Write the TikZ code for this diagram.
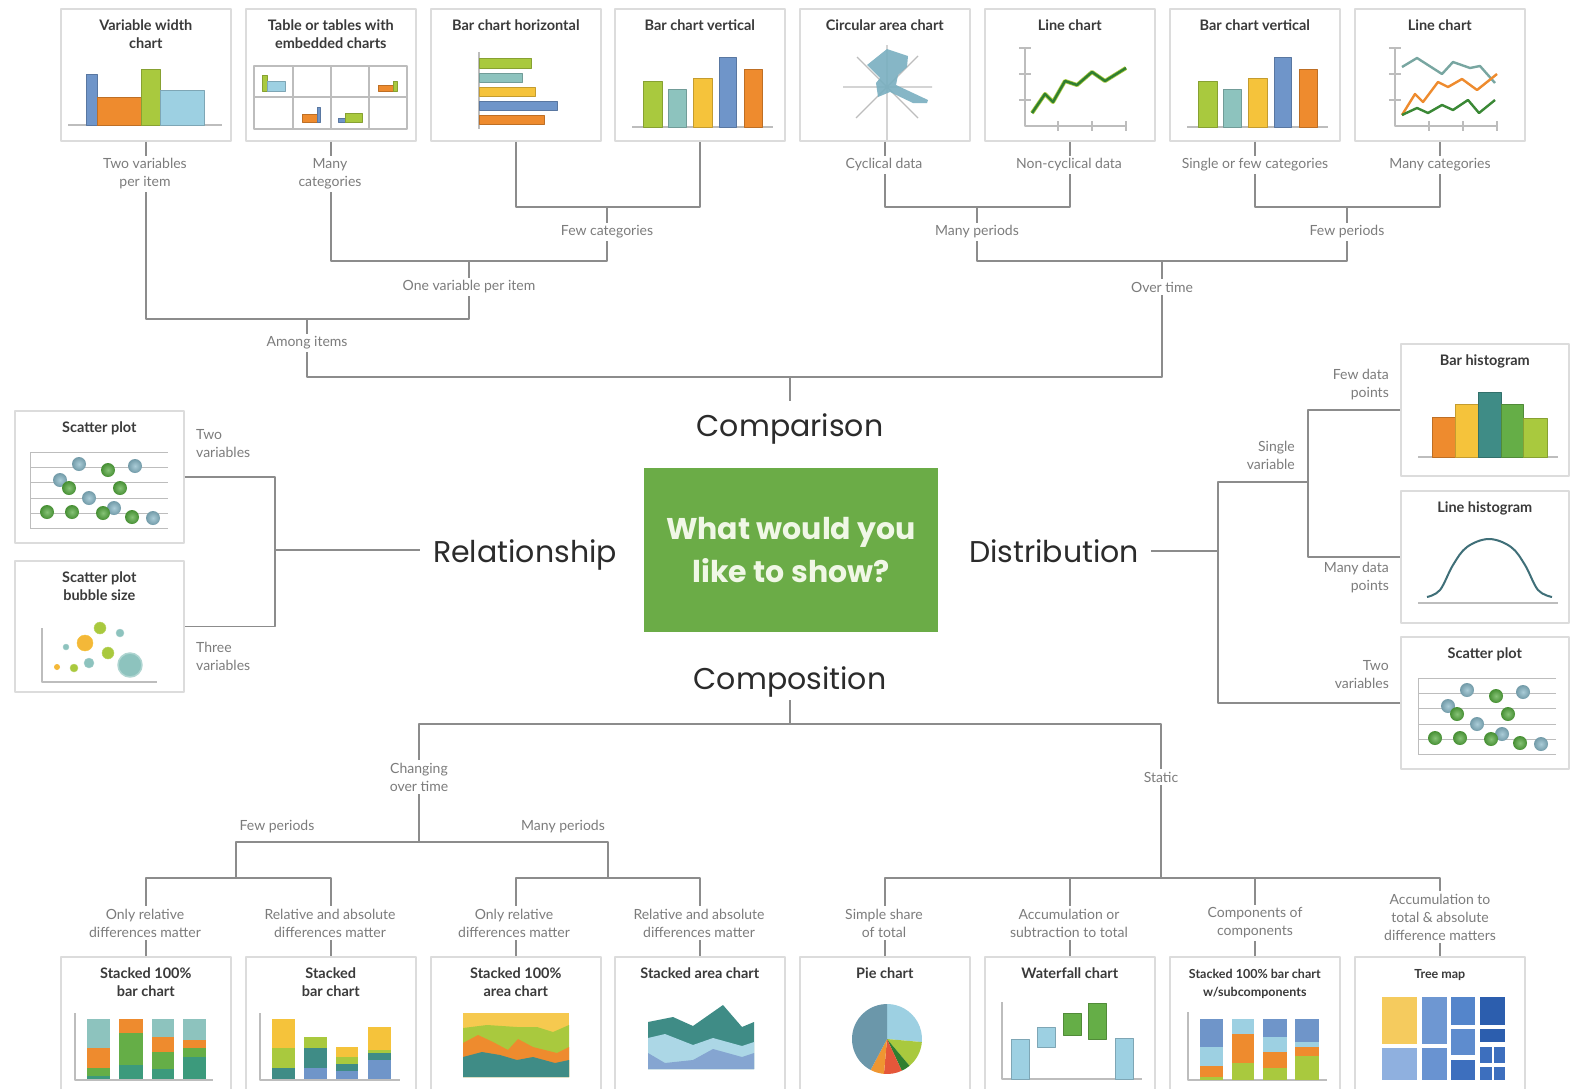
\documentclass[tikz,border=0pt]{standalone}
\usepackage{fontspec}
\setmainfont{Lato}
\newfontfamily\headfont{Poppins}
\usepackage{xcolor}
\usetikzlibrary{positioning}

\definecolor{boxgray}{HTML}{DCDCDC}
\definecolor{linegray}{HTML}{8C8C8C}
\definecolor{labelgray}{HTML}{7C7C7C}
\definecolor{titlegray}{HTML}{3A3A3A}
\definecolor{headgray}{HTML}{2B2B2B}
\definecolor{axisgray}{HTML}{BDBDBD}
\definecolor{qgreen}{HTML}{6BAC47}
\definecolor{qtext}{HTML}{F0F7E6}
\definecolor{cLime}{HTML}{A9C93E}
\definecolor{cTeal}{HTML}{8DC3BE}
\definecolor{cYellow}{HTML}{F5C33B}
\definecolor{cBlue}{HTML}{6F95C9}
\definecolor{cOrange}{HTML}{EE8B2E}
\definecolor{cSky}{HTML}{9DD0E2}
\definecolor{cDTeal}{HTML}{3F8C86}
\definecolor{cSea}{HTML}{3C9A7C}
\definecolor{cGreen}{HTML}{65AE47}
\definecolor{cDGreen}{HTML}{2F7F30}
\definecolor{cSteel}{HTML}{6B97AA}
\definecolor{cRed}{HTML}{E5573A}
\definecolor{cCirc}{HTML}{79AFC0}
\definecolor{cBell}{HTML}{3F6F78}
\definecolor{cScatB}{HTML}{86B6C6}
\definecolor{cScatG}{HTML}{52A83C}
\definecolor{tmA}{HTML}{8FB0DF}
\definecolor{tmB}{HTML}{6E97D2}
\definecolor{tmC}{HTML}{5485CB}
\definecolor{tmD}{HTML}{3D6FBE}
\definecolor{tmE}{HTML}{2C5EAE}
\definecolor{tmY}{HTML}{F5CB5E}

\tikzset{
  chartbox/.style={draw=boxgray,line width=1.6pt,fill=white,minimum width=170pt,
    minimum height=132pt,anchor=north west,inner sep=0pt},
  ttl/.style={font=\fontsize{14.5}{18}\selectfont\bfseries,text=titlegray,align=center,inner sep=2pt},
  lbl/.style={font=\fontsize{14}{18}\selectfont,text=labelgray,align=center,fill=white,inner sep=3pt},
  link/.style={draw=linegray,line width=1.4pt},
  head/.style={font=\headfont\fontsize{30}{34}\selectfont,text=headgray,inner sep=3pt,anchor=base},
  axis/.style={draw=axisgray,line width=1.2pt},
  bar/.style={draw=#1!80!black,line width=0.4pt,fill=#1},
  dot/.style={inner color=#1!70!white,outer color=#1!85!black},
  barvpic/.pic={
    \draw[axis] (18,119) -- (159,119);
    \path[bar=cLime] (29,73) rectangle (48,119);
    \path[bar=cTeal] (54,81) rectangle (72,119);
    \path[bar=cYellow] (79,70) rectangle (98,119);
    \path[bar=cBlue] (105,49) rectangle (122,119);
    \path[bar=cOrange] (130,61) rectangle (148,119);
  },
  scatpic/.pic={
    \foreach \yy in {42,57,72,88,103,118} \draw[axis,line width=0.8pt] (16,\yy) -- (154,\yy);
    \draw[axis,line width=0.8pt] (16,42) -- (16,118);
    \shade[dot=cScatB] (65,54) circle (7);
    \shade[dot=cScatG] (94,60) circle (7);
    \shade[dot=cScatB] (121,56) circle (7);
    \shade[dot=cScatB] (46,70) circle (7);
    \shade[dot=cScatG] (55,78) circle (7);
    \shade[dot=cScatG] (106,78) circle (7);
    \shade[dot=cScatB] (75,88) circle (7);
    \shade[dot=cScatG] (33,102) circle (7);
    \shade[dot=cScatG] (58,102) circle (7);
    \shade[dot=cScatB] (100,98) circle (7);
    \shade[dot=cScatG] (89,103) circle (7);
    \shade[dot=cScatG] (118,107) circle (7);
    \shade[dot=cScatB] (139,108) circle (7);
  },
}

\begin{document}
\begin{tikzpicture}[x=1pt,y=-1pt,line join=round]
  \useasboundingbox (0,0) rectangle (1572,1088);
  \clip (0,0) rectangle (1572,1088);
  \fill[white] (0,0) rectangle (1572,1088);

  % top row
  \node[chartbox] (B1) at (60,8) {};
  \node[chartbox] (B2) at (245,8) {};
  \node[chartbox] (B3) at (430,8) {};
  \node[chartbox] (B4) at (614,8) {};
  \node[chartbox] (B5) at (799,8) {};
  \node[chartbox] (B6) at (984,8) {};
  \node[chartbox] (B7) at (1169,8) {};
  \node[chartbox] (B8) at (1354,8) {};
  % left and right
  \node[chartbox,minimum width=169pt] (L1) at (14,410) {};
  \node[chartbox,minimum width=169pt,minimum height=131pt] (L2) at (14,560) {};
  \node[chartbox,minimum width=168pt] (R1) at (1400,343) {};
  \node[chartbox,minimum width=168pt] (R2) at (1400,490) {};
  \node[chartbox,minimum width=168pt] (R3) at (1400,636) {};
  % bottom row
  \node[chartbox,minimum height=145pt] (C1) at (60,956) {};
  \node[chartbox,minimum height=145pt] (C2) at (245,956) {};
  \node[chartbox,minimum height=145pt] (C3) at (430,956) {};
  \node[chartbox,minimum height=145pt] (C4) at (614,956) {};
  \node[chartbox,minimum height=145pt] (C5) at (799,956) {};
  \node[chartbox,minimum height=145pt] (C6) at (984,956) {};
  \node[chartbox,minimum height=145pt] (C7) at (1169,956) {};
  \node[chartbox,minimum height=145pt] (C8) at (1354,956) {};

  % titles
  \node[ttl,below=10pt of B1.north] (B1t) {Variable width\\chart};
  \node[ttl,below=10pt of B2.north] (B2t) {Table or tables with\\embedded charts};
  \node[ttl,below=10pt of B3.north] (B3t) {Bar chart horizontal};
  \node[ttl,below=10pt of B4.north] (B4t) {Bar chart vertical};
  \node[ttl,below=10pt of B5.north] (B5t) {Circular area chart};
  \node[ttl,below=10pt of B6.north] (B6t) {Line chart};
  \node[ttl,below=10pt of B7.north] (B7t) {Bar chart vertical};
  \node[ttl,below=10pt of B8.north] (B8t) {Line chart};
  \node[ttl,below=10pt of L1.north] (L1t) {Scatter plot};
  \node[ttl,below=10pt of L2.north] (L2t) {Scatter plot\\bubble size};
  \node[ttl,below=10pt of R1.north] (R1t) {Bar histogram};
  \node[ttl,below=10pt of R2.north] (R2t) {Line histogram};
  \node[ttl,below=10pt of R3.north] (R3t) {Scatter plot};
  \node[ttl,below=10pt of C1.north] (C1t) {Stacked 100\%\\bar chart};
  \node[ttl,below=10pt of C2.north] (C2t) {Stacked\\bar chart};
  \node[ttl,below=10pt of C3.north] (C3t) {Stacked 100\%\\area chart};
  \node[ttl,below=10pt of C4.north] (C4t) {Stacked area chart};
  \node[ttl,below=10pt of C5.north] (C5t) {Pie chart};
  \node[ttl,below=10pt of C6.north] (C6t) {Waterfall chart};
  \node[ttl,below=11pt of C7.north,font=\fontsize{12.5}{18}\selectfont\bfseries] (C7t) {Stacked 100\% bar chart\\w/subcomponents};
  \node[ttl,below=11pt of C8.north,font=\fontsize{12.5}{18}\selectfont\bfseries] (C8t) {Tree map};

  % variable width chart
  \draw[axis] (68,125) -- (222,125);
  \path[bar=cBlue] (86,74) rectangle (97,125);
  \path[bar=cOrange] (97,97) rectangle (141,125);
  \path[bar=cLime] (141,69) rectangle (160,125);
  \path[bar=cSky] (160,90) rectangle (204,125);
  % table
  \draw[axisgray,line width=1.2pt] (254,66) rectangle (407,129);
  \draw[axisgray,line width=1.2pt] (293,66) -- (293,129) (331,66) -- (331,129)
    (369,66) -- (369,129) (254,97) -- (407,97);
  \path[bar=cLime] (262,75) rectangle (267,91);
  \path[bar=cSky] (267,81) rectangle (285,91);
  \path[bar=cOrange] (378,85) rectangle (393,91);
  \path[bar=cLime] (393,81) rectangle (397,91);
  \path[bar=cOrange] (302,114) rectangle (317,122);
  \path[bar=cBlue] (317,107) rectangle (320,122);
  \path[bar=cBlue] (338,118) rectangle (345,122);
  \path[bar=cLime] (345,113) rectangle (362,122);
  % horizontal bars
  \draw[axis] (479,52) -- (479,129);
  \path[bar=cLime] (479,58) rectangle (531,68);
  \path[bar=cTeal] (479,73) rectangle (522,82);
  \path[bar=cYellow] (479,87) rectangle (535,96);
  \path[bar=cBlue] (479,101) rectangle (557,110);
  \path[bar=cOrange] (479,115) rectangle (544,124);
  % vertical bars
  \pic at (614,8) {barvpic};
  \pic at (1169,8) {barvpic};
  % circular area
  \draw[axis] (843,87) -- (932,87) (887,45) -- (887,140) (856,118) -- (918,56) (857,57) -- (918,118);
  \fill[cCirc,opacity=0.9] (867,65) -- (887,49) -- (908,56) -- (907,67) -- (898,75) -- (896,85)
    -- (928,100) -- (927,103) -- (913,103) -- (890,92) -- (878,97) -- (876,83) -- (880,78) -- cycle;
  % line chart
  \draw[axis] (1025,48) -- (1025,126) -- (1126,126);
  \draw[axis] (1019,48) -- (1031,48) (1019,74) -- (1031,74) (1019,100) -- (1031,100)
    (1058,121) -- (1058,131) (1092,121) -- (1092,131) (1126,121) -- (1126,131);
  \draw[cLime,line width=4pt] (1032,113) -- (1045,94) -- (1053,102) -- (1065,81) -- (1077,85) -- (1092,72) -- (1105,81) -- (1126,68);
  \draw[cDGreen,line width=2.4pt] (1032,113) -- (1045,94) -- (1053,102) -- (1065,81) -- (1077,85) -- (1092,72) -- (1105,81) -- (1126,68);
  % multi line chart
  \draw[axis] (1395,48) -- (1395,126) -- (1497,126);
  \draw[axis] (1389,48) -- (1401,48) (1389,74) -- (1401,74) (1389,100) -- (1401,100)
    (1429,121) -- (1429,131) (1463,121) -- (1463,131) (1497,121) -- (1497,131);
  \draw[cTeal!85!black,line width=2.4pt] (1402,67) -- (1417,58) -- (1442,74) -- (1453,62) -- (1470,68) -- (1480,66) -- (1495,83);
  \draw[cOrange,line width=2.4pt] (1402,115) -- (1415,94) -- (1423,102) -- (1438,82) -- (1448,87) -- (1462,79) -- (1477,90) -- (1497,74);
  \draw[cDGreen!80!cGreen,line width=2.4pt] (1402,115) -- (1417,108) -- (1428,113) -- (1442,105) -- (1453,110) -- (1468,100) -- (1479,113) -- (1495,100);

  % scatter plots
  \pic at (14,410) {scatpic};
  \pic at (1402,636) {scatpic};
  % bubble size
  \draw[axis] (42,628) -- (42,682) -- (157,682);
  \fill[cLime,draw=cLime!80!white] (100,628) circle (6);
  \fill[cTeal,draw=cTeal!80!white] (120,633) circle (4);
  \fill[cYellow!80!cOrange,draw=cYellow] (85,643) circle (8);
  \fill[cTeal,draw=cTeal!80!white] (66,647) circle (3);
  \fill[cLime,draw=cLime!80!white] (108,653) circle (6);
  \fill[cYellow!80!cOrange] (57,667) circle (3);
  \fill[cLime,draw=cLime!80!white] (74,668) circle (4);
  \fill[cTeal,draw=cTeal!80!white] (89,663) circle (5);
  \fill[cTeal,draw=cTeal!70!white,line width=1.5pt] (130,665) circle (12);
  % bar histogram
  \draw[axis] (1418,457) -- (1558,457);
  \path[bar=cOrange] (1432,417) rectangle (1455,457);
  \path[bar=cYellow] (1455,404) rectangle (1478,457);
  \path[bar=cDTeal] (1478,392) rectangle (1501,457);
  \path[bar=cGreen] (1501,404) rectangle (1523,457);
  \path[bar=cLime] (1523,418) rectangle (1547,457);
  % line histogram
  \draw[axis] (1418,603) -- (1558,603);
  \draw[cBell,line width=2pt] plot[smooth,tension=0.6] coordinates {(1427,597) (1440,590) (1453,565)
    (1467,547) (1489,539) (1511,547) (1525,565) (1538,590) (1552,597)};

  % stacked 100% bar chart
  \draw[axis] (75,1013) -- (75,1080) -- (213,1080);
  \fill[cTeal] (87,1019) rectangle (110,1048);
  \fill[cOrange] (87,1048) rectangle (110,1068);
  \fill[cGreen] (87,1068) rectangle (110,1076);
  \fill[cSea] (87,1076) rectangle (110,1079);
  \fill[cOrange] (119,1019) rectangle (143,1033);
  \fill[cGreen] (119,1033) rectangle (143,1065);
  \fill[cSea] (119,1065) rectangle (143,1079);
  \fill[cTeal] (152,1019) rectangle (174,1037);
  \fill[cOrange] (152,1037) rectangle (174,1052);
  \fill[cGreen] (152,1052) rectangle (174,1069);
  \fill[cSea] (152,1069) rectangle (174,1079);
  \fill[cTeal] (183,1019) rectangle (206,1040);
  \fill[cOrange] (183,1040) rectangle (206,1048);
  \fill[cGreen] (183,1048) rectangle (206,1057);
  \fill[cSea] (183,1057) rectangle (206,1079);
  % stacked bar chart
  \draw[axis] (260,1013) -- (260,1080) -- (400,1080);
  \fill[cYellow] (272,1019) rectangle (295,1048);
  \fill[cLime] (272,1048) rectangle (295,1068);
  \fill[cDTeal] (272,1068) rectangle (295,1079);
  \fill[cLime] (304,1037) rectangle (327,1048);
  \fill[cDTeal] (304,1048) rectangle (327,1068);
  \fill[cBlue] (304,1068) rectangle (327,1079);
  \fill[cYellow] (336,1047) rectangle (358,1057);
  \fill[cLime] (336,1057) rectangle (358,1064);
  \fill[cDTeal] (336,1064) rectangle (358,1071);
  \fill[cBlue] (336,1071) rectangle (358,1079);
  \fill[cYellow] (368,1027) rectangle (391,1050);
  \fill[cLime] (368,1050) rectangle (391,1053);
  \fill[cDTeal] (368,1053) rectangle (391,1060);
  \fill[cBlue] (368,1060) rectangle (391,1079);
  % stacked 100% area chart
  \fill[cYellow!90!white] (463,1013) rectangle (569,1077);
  \fill[cLime] (463,1028) -- (487,1025) -- (517,1027) -- (537,1027) -- (553,1032) -- (569,1025) -- (569,1077) -- (463,1077) -- cycle;
  \fill[cOrange] (463,1043) -- (478,1035) -- (493,1042) -- (508,1050) -- (518,1039) -- (533,1047) -- (557,1053) -- (569,1047) -- (569,1077) -- (463,1077) -- cycle;
  \fill[cDTeal] (463,1057) -- (482,1052) -- (500,1055) -- (517,1060) -- (533,1057) -- (555,1063) -- (569,1060) -- (569,1077) -- (463,1077) -- cycle;
  % stacked area chart
  \fill[cDTeal] (648,1022) -- (673,1017) -- (693,1026) -- (723,1005) -- (742,1027) -- (754,1022) -- (754,1069) -- (648,1069) -- cycle;
  \fill[cSky!85!white] (648,1038) -- (665,1034) -- (693,1045) -- (713,1038) -- (742,1046) -- (754,1042) -- (754,1069) -- (648,1069) -- cycle;
  \fill[cBlue!85!white] (648,1053) -- (665,1063) -- (693,1060) -- (713,1049) -- (742,1057) -- (754,1053) -- (754,1069) -- (648,1069) -- cycle;
  % pie chart
  \coordinate (PC) at (887,1039);
  \fill[cSky] (PC) -- ++(-90:35) arc[start angle=-90,end angle=5,radius=35] -- cycle;
  \fill[cLime] (PC) -- ++(5:35) arc[start angle=5,end angle=50,radius=35] -- cycle;
  \fill[cDGreen] (PC) -- ++(50:35) arc[start angle=50,end angle=65,radius=35] -- cycle;
  \fill[cRed] (PC) -- ++(65:35) arc[start angle=65,end angle=95,radius=35] -- cycle;
  \fill[cOrange!80!cYellow] (PC) -- ++(95:35) arc[start angle=95,end angle=118,radius=35] -- cycle;
  \fill[cSteel] (PC) -- ++(118:35) arc[start angle=118,end angle=270,radius=35] -- cycle;
  % waterfall chart
  \draw[axis] (1002,1002) -- (1002,1079) -- (1142,1079);
  \path[bar=cSky] (1011,1039) rectangle (1029,1079);
  \path[bar=cSky] (1037,1027) rectangle (1055,1047);
  \path[bar=cGreen] (1063,1013) rectangle (1081,1035);
  \path[bar=cGreen] (1088,1003) rectangle (1106,1039);
  \path[bar=cSky] (1115,1038) rectangle (1133,1079);
  % stacked 100% bar chart with subcomponents
  \draw[axis] (1188,1012) -- (1188,1080) -- (1327,1080);
  \fill[cBlue] (1200,1019) rectangle (1223,1047);
  \fill[cSky] (1200,1047) rectangle (1223,1066);
  \fill[cOrange] (1200,1066) rectangle (1223,1077);
  \fill[cLime] (1200,1077) rectangle (1223,1080);
  \fill[cSky] (1232,1019) rectangle (1254,1034);
  \fill[cOrange] (1232,1034) rectangle (1254,1063);
  \fill[cLime] (1232,1063) rectangle (1254,1080);
  \fill[cBlue] (1263,1019) rectangle (1287,1037);
  \fill[cSky] (1263,1037) rectangle (1287,1052);
  \fill[cOrange] (1263,1052) rectangle (1287,1068);
  \fill[cLime] (1263,1068) rectangle (1287,1080);
  \fill[cBlue] (1295,1019) rectangle (1319,1042);
  \fill[cSky] (1295,1042) rectangle (1319,1047);
  \fill[cOrange] (1295,1047) rectangle (1319,1056);
  \fill[cLime] (1295,1056) rectangle (1319,1080);
  % tree map
  \fill[tmY] (1382,997) rectangle (1417,1044);
  \fill[tmA] (1382,1048) rectangle (1417,1080);
  \fill[tmB] (1422,997) rectangle (1447,1044);
  \fill[tmB!80!tmC] (1422,1048) rectangle (1447,1080);
  \fill[tmC] (1451,997) rectangle (1475,1025);
  \fill[tmC!60!tmB] (1451,1029) rectangle (1475,1055);
  \fill[tmD] (1451,1060) rectangle (1475,1080);
  \fill[tmE] (1480,997) rectangle (1505,1025);
  \fill[tmE] (1480,1029) rectangle (1505,1042);
  \fill[tmD] (1480,1047) rectangle (1492,1063);
  \fill[tmD] (1494,1047) rectangle (1505,1063);
  \fill[tmD] (1480,1067) rectangle (1492,1080);
  \fill[tmD] (1494,1067) rectangle (1505,1080);

  % centre and headings
  \node[fill=qgreen,minimum width=294pt,minimum height=164pt,inner sep=0pt,
    font=\headfont\bfseries\fontsize{30}{43}\selectfont,text=qtext,align=center] (Q) at (791,550)
    {What would you\\like to show?};
  \node[head] (cmp) at (790,436) {Comparison};
  \node[head] (rel) at (525,562) {Relationship};
  \node[head] (dst) at (1054,562) {Distribution};
  \node[head] (cps) at (790,689) {Composition};

  % junctions
  \coordinate (JFc) at (607,207);
  \coordinate (JOv) at (469,261);
  \coordinate (JAm) at (307,319);
  \coordinate (JCmp) at (790,377);
  \coordinate (JMp) at (977,207);
  \coordinate (JFp) at (1347,207);
  \coordinate (JOt) at (1162,261);
  \coordinate (JL) at (275,550);
  \coordinate (JD) at (1218,551);
  \coordinate (JSv) at (1308,482);
  \coordinate (JCo) at (790,724);
  \coordinate (JChg) at (419,842);
  \coordinate (JSt) at (1161,878);
  \coordinate (JFw) at (236,878);
  \coordinate (JMn) at (608,878);

  % comparison tree
  \draw[link] (B3.south) |- (JFc) -| (B4.south);
  \draw[link] (B2.south) |- (JOv) -| (JFc);
  \draw[link] (B1.south) |- (JAm) -| (JOv);
  \draw[link] (B5.south) |- (JMp) -| (B6.south);
  \draw[link] (B7.south) |- (JFp) -| (B8.south);
  \draw[link] (JMp) |- (JOt) -| (JFp);
  \draw[link] (JAm) |- (JCmp) -| (JOt);
  \draw[link,shorten >=9pt] (JCmp) -- (cmp.north);
  % relationship
  \draw[link] (L1.east) -| (JL) |- (L2.east);
  \draw[link,shorten >=10pt] (JL) -- (JL -| rel.west);
  % distribution
  \draw[link,shorten <=9pt] (JD -| dst.east) -- (JD);
  \draw[link] (JSv) -| (JD) |- (R3.west);
  \draw[link] (R1.west) -| (JSv) |- (R2.west);
  % composition tree
  \draw[link] (cps.south) -- (JCo);
  \draw[link] (JChg) |- (JCo) -| (JSt);
  \draw[link] (JFw) |- (JChg) -| (JMn);
  \draw[link] (C1.north) |- (JFw) -| (C2.north);
  \draw[link] (C3.north) |- (JMn) -| (C4.north);
  \draw[link] (C5.north) |- (JSt) -| (C8.north);
  \draw[link] (C6.north) -- (C6.north |- JSt);
  \draw[link] (C7.north) -- (C7.north |- JSt);

  % labels
  \node[lbl] (a1) at (145,174) {Two variables\\per item};
  \node[lbl] (a2) at (330,174) {Many\\categories};
  \node[lbl] (a5) at (884,165) {Cyclical data};
  \node[lbl] (a6) at (1069,165) {Non-cyclical data};
  \node[lbl] (a7) at (1255,165) {Single or few categories};
  \node[lbl] (a8) at (1440,165) {Many categories};
  \node[lbl] (aFc) at (607,232) {Few categories};
  \node[lbl] (aMp) at (977,232) {Many periods};
  \node[lbl] (aFp) at (1347,232) {Few periods};
  \node[lbl] (aOv) at (469,287) {One variable per item};
  \node[lbl] (aOt) at (1162,287) {Over time};
  \node[lbl] (aAm) at (307,343) {Among items};
  \node[lbl,anchor=west,align=left] (aL1) at (193,444) {Two\\variables};
  \node[lbl,anchor=west,align=left] (aL2) at (193,656) {Three\\variables};
  \node[lbl,anchor=east,align=right] (aSv) at (1298,455) {Single\\variable};
  \node[lbl,anchor=east,align=right] (aR1) at (1392,385) {Few data\\points};
  \node[lbl,anchor=east,align=right] (aR2) at (1392,578) {Many data\\points};
  \node[lbl,anchor=east,align=right] (aR3) at (1392,675) {Two\\variables};
  \node[lbl] (aChg) at (419,777) {Changing\\over time};
  \node[lbl] (aSt) at (1161,777) {Static};
  \node[lbl] (aFw) at (277,827) {Few periods};
  \node[lbl] (aMn) at (563,827) {Many periods};
  \node[lbl] (c1) at (145,923) {Only relative\\differences matter};
  \node[lbl] (c2) at (330,923) {Relative and absolute\\differences matter};
  \node[lbl] (c3) at (514,923) {Only relative\\differences matter};
  \node[lbl] (c4) at (699,923) {Relative and absolute\\differences matter};
  \node[lbl] (c5) at (884,923) {Simple share\\of total};
  \node[lbl] (c6) at (1069,923) {Accumulation or\\subtraction to total};
  \node[lbl] (c7) at (1255,923) {Components of\\components};
  \node[lbl] (c8) at (1440,917) {Accumulation to\\total \& absolute\\difference matters};
\end{tikzpicture}
\end{document}
